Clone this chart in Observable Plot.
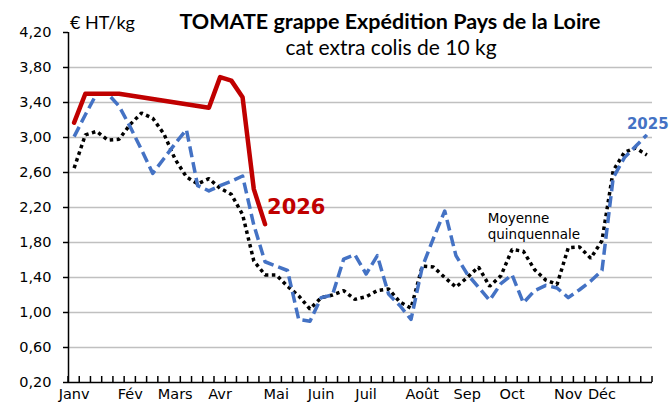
<!DOCTYPE html>
<html><head><meta charset="utf-8">
<script src="https://cdn.jsdelivr.net/npm/d3@7"></script>
<script src="https://cdn.jsdelivr.net/npm/@observablehq/plot@0.6"></script>
<style>body{margin:0;background:#fff} svg{display:block}</style>
</head><body><div id="chart"></div>
<script>
// Semaines 1..52
const weeks = d3.range(1, 53);
// 2026 (null = pas de cotation)
const prix2026 = [3.17, 3.50, 3.50, 3.50, 3.50, null, null, null, null, null, null, null, 3.34, 3.69, 3.65, 3.46, 2.41, 2.01];
// 2025
const prix2025 = [3.01, 3.26, 3.50, 3.50, 3.36, 3.12, 2.86, 2.59, 2.76, 2.93, 3.09, 2.45, 2.39, 2.45, 2.50, 2.56,
  2.00, 1.58, 1.53, 1.48, 0.92, 0.90, 1.17, 1.20, 1.61, 1.66, 1.44, 1.65, 1.21, 1.08, 0.92, 1.52,
  1.85, 2.16, 1.65, 1.44, 1.29, 1.14, 1.33, 1.43, 1.11, 1.25, 1.31, 1.28, 1.17, 1.26, 1.36, 1.48,
  2.54, 2.77, 2.90, 3.03];
// Moyenne quinquennale
const moyenne = [2.65, 3.03, 3.07, 2.97, 2.98, 3.15, 3.28, 3.22, 3.04, 2.75, 2.55, 2.47, 2.53, 2.42, 2.35, 2.12,
  1.59, 1.43, 1.43, 1.30, 1.19, 1.04, 1.17, 1.20, 1.25, 1.15, 1.18, 1.25, 1.27, 1.12, 1.05, 1.53,
  1.52, 1.40, 1.29, 1.40, 1.52, 1.30, 1.42, 1.72, 1.70, 1.49, 1.37, 1.32, 1.74, 1.75, 1.62, 1.82,
  2.62, 2.83, 2.88, 2.80];
const monthWeeks = [1, 6, 10, 14, 19, 23, 27, 32, 36, 40, 45, 48];
const monthLabels = ["Janv", "Fév", "Mars", "Avr", "Mai", "Juin", "Juil", "Août", "Sep", "Oct", "Nov", "Déc"];
const yTicks = [0.2, 0.6, 1.0, 1.4, 1.8, 2.2, 2.6, 3.0, 3.4, 3.8, 4.2];
const xDomain = [0.5, 52.5];
const yDomain = [0.2, 4.2];
const weekBounds = d3.range(0.5, 53, 1);

const rows = weeks.map((w, i) => ({w, v25: prix2025[i], moy: moyenne[i], v26: i < prix2026.length ? prix2026[i] : null}));
const red = rows.filter(d => d.v26 != null);
const fmt = d => d.toFixed(2).replace(".", ",");
const axisFont = "DejaVu Sans, sans-serif";

const plot = Plot.plot({
  width: 670, height: 407,
  marginLeft: 68, marginRight: 18, marginTop: 32, marginBottom: 25,
  x: {domain: xDomain, axis: null},
  y: {domain: yDomain, axis: null},
  style: {fontFamily: axisFont, background: "white", color: "black"},
  marks: [
    Plot.ruleY(yTicks.filter(t => t > yDomain[0] && t < yDomain[1]), {stroke: "#c0c0c0", strokeWidth: 1.5}),
    Plot.axisY({ticks: yTicks, tickFormat: fmt, tickSize: 5, tickPadding: 12, fontSize: 14.5, strokeWidth: 1.5, letterSpacing: 1.2, label: null}),
    Plot.axisX({ticks: monthWeeks, tickFormat: d => monthLabels[monthWeeks.indexOf(d)], tickSize: 0, tickPadding: 6, fontSize: 14.5, letterSpacing: 1.2, label: null}),
    Plot.ruleX([xDomain[0]], {y1: yDomain[0], y2: yDomain[1], strokeWidth: 1.5}),
    Plot.ruleY([yDomain[0]], {strokeWidth: 1.5}),
    Plot.line(rows, {x: "w", y: "moy", stroke: "black", strokeWidth: 3.5, strokeDasharray: "3.5,3.5", strokeLinecap: "butt", strokeLinejoin: "miter"}),
    Plot.line(rows, {x: "w", y: "v25", stroke: "#4472C4", strokeWidth: 3.5, strokeDasharray: "11,5", strokeLinecap: "butt"}),
    Plot.line(red, {x: "w", y: "v26", stroke: "#C00000", strokeWidth: 4.5}),
    Plot.text([red[red.length - 1]], {x: "w", y: "v26", text: () => "2026", dx: 2, dy: -10, textAnchor: "start", lineAnchor: "bottom", fill: "#C00000", fontWeight: "bold", fontSize: 21}),
    Plot.text([rows[rows.length - 1]], {x: "w", y: "v25", text: () => "2025", dx: -20, dy: -6, textAnchor: "start", lineAnchor: "bottom", fill: "#4472C4", fontWeight: "bold", fontSize: 15}),
    Plot.text([rows[33]], {x: "w", y: "v25", text: () => "Moyenne\nquinquennale", dx: 43, dy: 0, textAnchor: "start", lineAnchor: "top", lineHeight: 1.2, fill: "black", fontSize: 13.5})
  ]
});
document.getElementById("chart").append(plot);

const svg = d3.select(plot);
// Graduations hebdomadaires de l'axe X (vers l'intérieur), placées avec les échelles de Plot
const sx = plot.scale("x"), sy = plot.scale("y");
const y0 = sy.apply(yDomain[0]);
svg.append("g").attr("stroke", "#000").attr("stroke-width", 1.5)
  .selectAll("line").data(weekBounds).join("line")
  .attr("x1", d => sx.apply(d)).attr("x2", d => sx.apply(d))
  .attr("y1", y0 - 6).attr("y2", y0);
svg.append("text").attr("x", 70).attr("y", 29).attr("text-anchor", "start").attr("font-family", "Lato, sans-serif").attr("font-size", 18).attr("fill", "black").text("€ HT/kg");
svg.append("text").attr("x", 390).attr("y", 29).attr("text-anchor", "middle").attr("font-family", "Lato, sans-serif").attr("font-weight", "bold").attr("font-size", 21.5).attr("fill", "black").text("TOMATE grappe Expédition Pays de la Loire");
svg.append("text").attr("x", 391).attr("y", 55).attr("text-anchor", "middle").attr("font-family", "Lato, sans-serif").attr("font-size", 21).attr("fill", "black").text("cat extra colis de 10 kg");
</script>
</body></html>
